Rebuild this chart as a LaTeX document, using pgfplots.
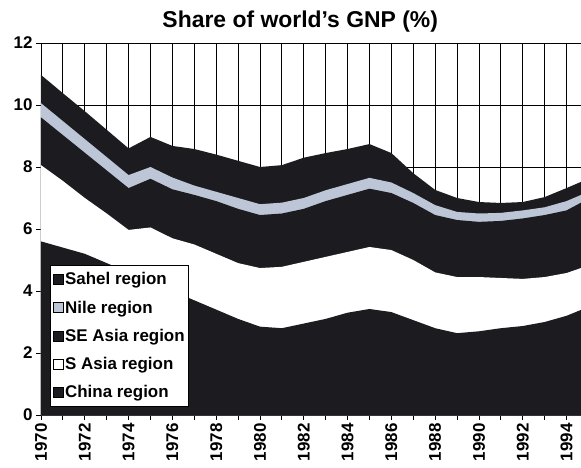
\documentclass[border=0pt]{standalone}
\usepackage{fontspec}
\setmainfont{Liberation Sans}
\usepackage{pgfplots}
\pgfplotsset{compat=1.18}
\usepackage{pgfplotstable}

\definecolor{scanblack}{RGB}{28,28,32}
\definecolor{nilegrey}{RGB}{188,198,214}

% cumulative tops of each band (share of world GNP, %)
\pgfplotstableread{
year   china sasia seasia nile  sahel
1970   5.60  8.06  9.60  10.06 10.97
1971   5.40  7.55  9.03  9.48  10.38
1972   5.20  7.00  8.46  8.90  9.80
1973   4.90  6.50  7.89  8.32  9.20
1974   4.60  5.97  7.32  7.74  8.60
1975   4.30  6.05  7.62  8.00  8.97
1976   4.00  5.70  7.28  7.66  8.68
1977   3.70  5.50  7.10  7.40  8.58
1978   3.40  5.20  6.90  7.20  8.40
1979   3.10  4.90  6.65  7.00  8.20
1980   2.85  4.74  6.45  6.80  8.00
1981   2.80  4.78  6.50  6.85  8.06
1982   2.95  4.94  6.65  7.00  8.30
1983   3.10  5.10  6.90  7.25  8.45
1984   3.30  5.26  7.10  7.45  8.58
1985   3.42  5.42  7.30  7.65  8.74
1986   3.32  5.32  7.16  7.50  8.45
1987   3.06  5.00  6.84  7.16  7.80
1988   2.80  4.60  6.45  6.77  7.26
1989   2.64  4.45  6.29  6.55  7.00
1990   2.70  4.45  6.23  6.50  6.87
1991   2.80  4.42  6.26  6.52  6.84
1992   2.87  4.39  6.34  6.60  6.87
1993   3.00  4.45  6.45  6.70  7.03
1994   3.20  4.58  6.60  6.90  7.32
1994.66 3.39 4.74  6.85  7.10  7.52
}\gnp

\begin{document}
\begin{tikzpicture}
\begin{axis}[
    scale only axis, width=540bp, height=372bp,
    xmin=1970, xmax=1994.66, ymin=0, ymax=12,
    axis lines=left,
    x axis line style={-, line width=1pt},
    y axis line style={-, line width=1pt},
    xtick={1970,1972,...,1994},
    minor xtick={1971,1973,...,1993},
    ytick={0,2,...,12},
    grid=both,
    major grid style={black, line width=0.9pt},
    minor grid style={black, line width=0.9pt},
    tick align=outside,
    major tick length=5bp, minor tick length=5bp,
    every tick/.style={black, line width=0.9pt},
    /pgf/number format/assume math mode=true,
    /pgf/number format/1000 sep={},
    tick label style={font=\bfseries\fontsize{17}{17}\selectfont},
    xticklabel style={rotate=90, anchor=east},
    title={Share of world's GNP (\%)},
    title style={font=\bfseries\fontsize{23}{23}\selectfont, at={(0.48,1)}, anchor=base, yshift=10bp},
    legend cell align=left,
    legend style={at={(0.017,0.022)}, anchor=south west, draw=black, line width=0.8pt,
        fill=white, font=\bfseries\fontsize{17}{18}\selectfont, row sep=10.5bp,
        inner xsep=2bp, inner ysep=5bp},
    legend image code/.code={\draw[#1, draw=black, line width=0.6pt] (0bp,-5bp) rectangle (10bp,5bp);},
]
\addplot[fill=scanblack, draw=none] table[x=year, y=sahel] {\gnp} \closedcycle;
\addlegendentry{Sahel region}
\addplot[fill=nilegrey, draw=none] table[x=year, y=nile] {\gnp} \closedcycle;
\addlegendentry{Nile region}
\addplot[fill=scanblack, draw=none] table[x=year, y=seasia] {\gnp} \closedcycle;
\addlegendentry{SE Asia region}
\addplot[fill=white, draw=none] table[x=year, y=sasia] {\gnp} \closedcycle;
\addlegendentry{S Asia region}
\addplot[fill=scanblack, draw=none] table[x=year, y=china] {\gnp} \closedcycle;
\addlegendentry{China region}
\end{axis}
\pgfresetboundingbox
\path ([xshift=-41bp,yshift=-53bp]current axis.south west) rectangle ([yshift=43bp]current axis.north east);
\end{tikzpicture}
\end{document}
